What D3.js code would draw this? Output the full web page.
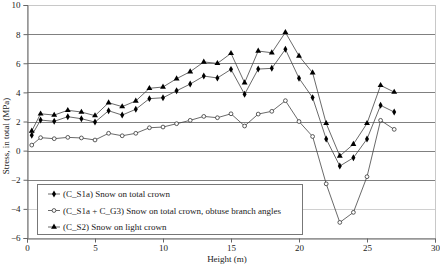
<!DOCTYPE html>
<html>
<head>
<meta charset="utf-8">
<script src="https://cdn.jsdelivr.net/npm/d3@7"></script>
<style>
  body { margin: 0; background: #fff; }
</style>
</head>
<body>
<div class="chart"></div>
<script>
var heights = [0.35, 1, 2, 3, 4, 5, 6, 7, 8, 9, 10, 11, 12, 13, 14, 15, 16, 17, 18, 19, 20, 21, 22, 23, 24, 25, 26, 27];
var totalCrown = [1.05, 2.1, 2.01, 2.33, 2.19, 1.96, 2.74, 2.44, 2.84, 3.57, 3.63, 4.11, 4.57, 5.12, 4.99, 5.58, 3.87, 5.6, 5.65, 6.96, 4.97, 3.64, 0.8, -1.06, -0.49, 0.8, 3.11, 2.65];
var obtuseAngles = [0.38, 0.89, 0.82, 0.91, 0.87, 0.73, 1.19, 1.02, 1.19, 1.57, 1.62, 1.85, 2.08, 2.35, 2.26, 2.53, 1.69, 2.51, 2.7, 3.43, 2.0, 0.97, -2.28, -4.93, -4.24, -1.79, 2.08, 1.46];
var lightCrown = [1.35, 2.53, 2.44, 2.77, 2.65, 2.4, 3.29, 3.02, 3.41, 4.28, 4.37, 4.94, 5.42, 6.09, 5.99, 6.68, 4.66, 6.84, 6.72, 8.12, 6.5, 5.35, 1.87, -0.37, 0.44, 1.87, 4.48, 4.02];
var yTicks = [-6, -4, -2, 0, 2, 4, 6, 8, 10];
var xTicks = [0, 5, 10, 15, 20, 25, 30];
var legendLabels = ["(C_S1a) Snow on total crown", "(C_S1a + C_G3) Snow on total crown, obtuse branch angles", "(C_S2) Snow on light crown"];

var width = 440, height = 264;
var margin = {top: 5, right: 5, bottom: 26, left: 27};
var FONT = "'Liberation Serif', 'Times New Roman', serif";

var svg = d3.select("div.chart").append("svg")
    .attr("width", width)
    .attr("height", height);

var x = d3.scaleLinear().domain([0, 30]).range([margin.left, width - margin.right]);
var y = d3.scaleLinear().domain([-6, 10]).range([height - margin.bottom, margin.top]);

// frame, light gray on top and right
svg.append("rect")
    .attr("x", x(0) + 0.5).attr("y", y(10) + 0.5)
    .attr("width", x(30) - x(0)).attr("height", y(-6) - y(10))
    .attr("fill", "none").attr("stroke", "#c8c8c8");

// gridlines
svg.selectAll("line.grid").data(yTicks.filter(function (d) { return d > -6 && d < 10; }))
    .enter().append("line").attr("class", "grid")
    .attr("x1", x(0)).attr("x2", x(30))
    .attr("y1", function (d) { return Math.round(y(d)) + 0.5; })
    .attr("y2", function (d) { return Math.round(y(d)) + 0.5; })
    .attr("stroke", function (d) { return d === -4 ? "#d0d0d0" : "#808080"; });

// axes
var yAxis = svg.append("g").attr("transform", "translate(" + (x(0) + 0.5) + ",0)")
    .call(d3.axisLeft(y).tickValues(yTicks).tickSize(4).tickPadding(3));
var xAxis = svg.append("g").attr("transform", "translate(0," + (Math.round(y(-6)) + 0.5) + ")")
    .call(d3.axisBottom(x).tickValues(xTicks).tickSize(4).tickPadding(2));
[xAxis, yAxis].forEach(function (a) {
    a.select(".domain").attr("stroke", "#666");
    a.selectAll(".tick line").attr("stroke", "#666");
});

svg.append("text")
    .attr("x", (x(0) + x(30)) / 2 - 4).attr("y", 262)
    .style("text-anchor", "middle")
    .text("Height (m)");
svg.append("text")
    .attr("transform", "translate(9,136) rotate(-90)")
    .style("text-anchor", "middle")
    .text("Stress, in total (MPa)");

var series = [
    {values: totalCrown, marker: "diamond"},
    {values: obtuseAngles, marker: "circle"},
    {values: lightCrown, marker: "triangle"}
];

var line = d3.line()
    .x(function (d) { return x(d[0]); })
    .y(function (d) { return y(d[1]); });

function drawMarker(g, type, cx, cy) {
    if (type === "diamond") {
        g.append("path").attr("d", d3.symbol(d3.symbolDiamond, 14)()).attr("transform", "translate(" + cx + "," + cy + ")")
            .attr("fill", "#000");
    } else if (type === "circle") {
        g.append("circle").attr("cx", cx).attr("cy", cy).attr("r", 1.9)
            .attr("fill", "#fff").attr("stroke", "#333").attr("stroke-width", 0.8);
    } else {
        g.append("path").attr("d", d3.symbol(d3.symbolTriangle, 15)()).attr("transform", "translate(" + cx + "," + cy + ")")
            .attr("fill", "#000");
    }
}

series.forEach(function (s) {
    var pts = heights.map(function (h, i) { return [h, s.values[i]]; });
    svg.append("path").datum(pts)
        .attr("d", line)
        .attr("fill", "none")
        .attr("stroke", "#444")
        .attr("stroke-width", 0.8);
    var g = svg.append("g");
    pts.forEach(function (p) { drawMarker(g, s.marker, x(p[0]), y(p[1])); });
});

// legend
var legend = svg.append("g");
legend.append("rect")
    .attr("x", 37.5).attr("y", 184.5).attr("width", 265).attr("height", 50)
    .attr("fill", "#fff").attr("stroke", "#777");
legendLabels.forEach(function (lab, i) {
    var ly = 194 + i * 16.5;
    legend.append("line").attr("x1", 48).attr("x2", 60).attr("y1", ly).attr("y2", ly)
        .attr("stroke", "#444").attr("stroke-width", 0.8);
    drawMarker(legend, series[i].marker, 54, ly);
    legend.append("text").attr("x", 63).attr("y", ly + 3.2).text(lab);
});

// all text in a Times-like face
svg.selectAll("text")
    .style("font-family", FONT)
    .style("font-size", "9px")
    .style("fill", "#222");
</script>
</body>
</html>
